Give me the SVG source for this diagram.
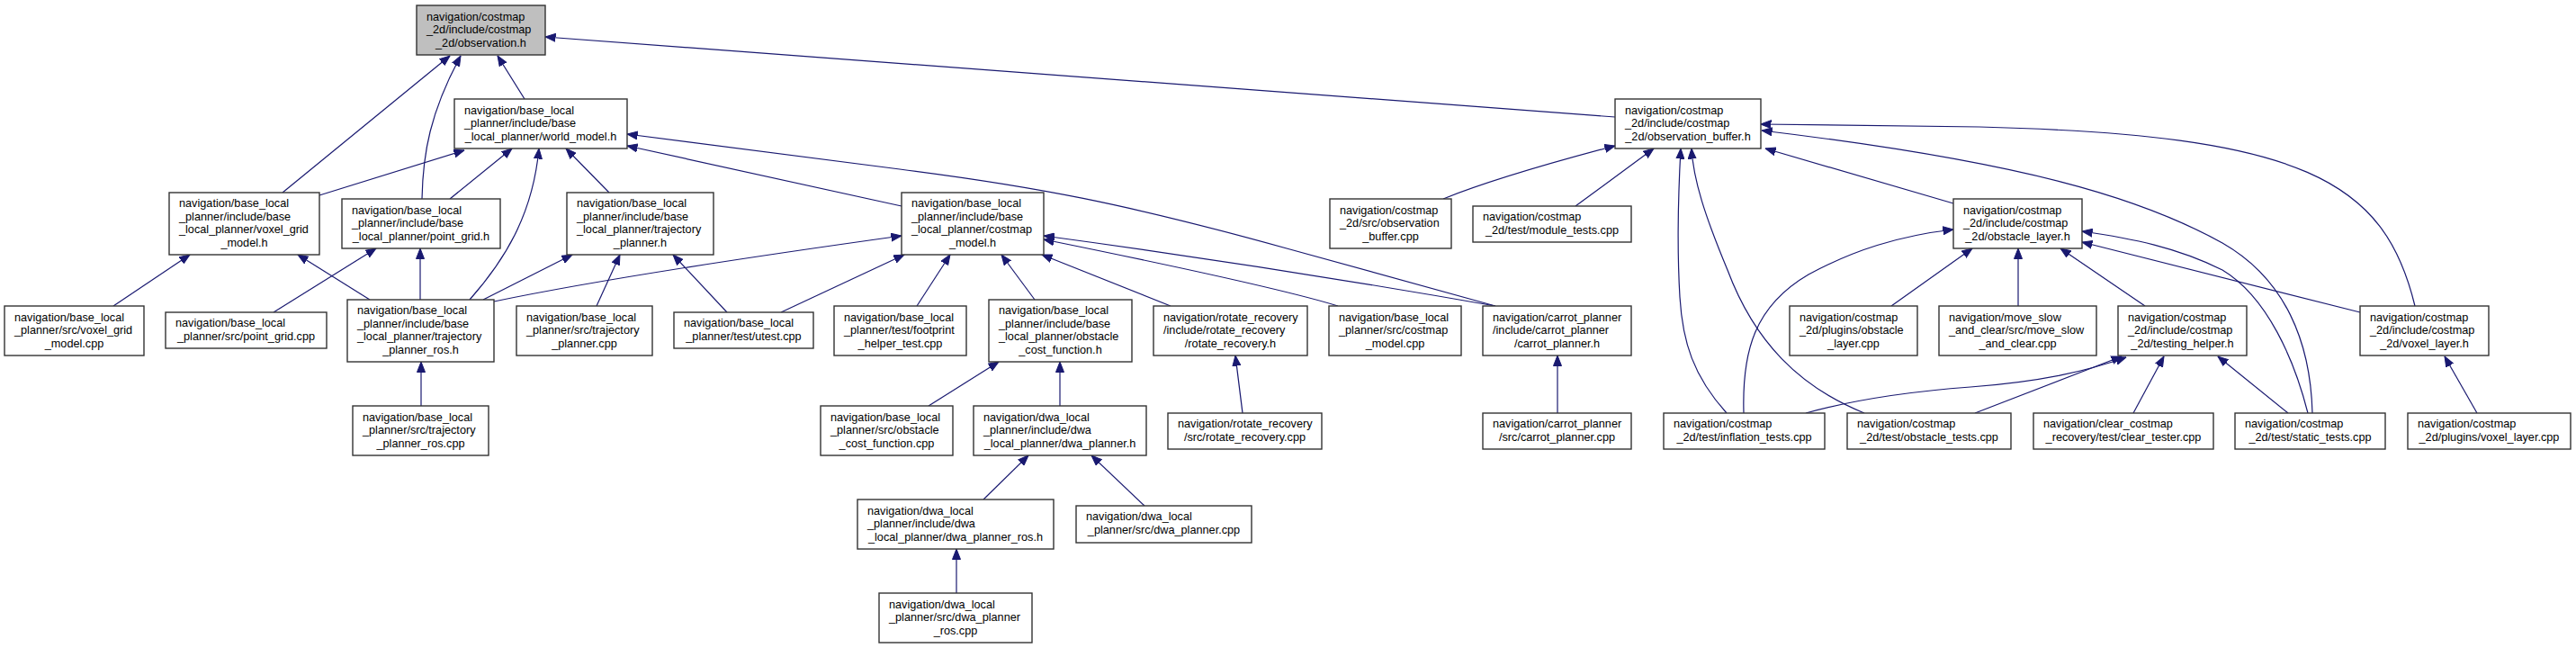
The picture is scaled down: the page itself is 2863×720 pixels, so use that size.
<svg xmlns="http://www.w3.org/2000/svg" width="2863" height="720" viewBox="0 0 2863 720">
<style>
.n rect{fill:#fff;stroke:#333;stroke-width:1.4}
.n.r rect{fill:#bfbfbf}
.n text{font-family:"Liberation Sans",Arial,sans-serif;font-size:12.7px;fill:#000}
.n .m{text-anchor:middle}
#edges path{fill:none;stroke:#191970;stroke-width:1.2;marker-end:url(#a)}
</style>
<defs>
<marker id="a" markerUnits="userSpaceOnUse" viewBox="0 0 12 10" markerWidth="12" markerHeight="10" refX="11.5" refY="5" orient="auto"><path d="M0,0.5 L11.5,5 L0,9.5 z" fill="#191970" stroke="#191970" stroke-width="1"/></marker>
</defs>
<rect width="2863" height="720" fill="#fff"/>
<g id="edges">
<path d="M314,214 L500,62"/>
<path d="M469,221 C470,170 478,125 512,62"/>
<path d="M583,110 L553,62"/>
<path d="M1795,130 L606,41"/>
<path d="M355,217 L516,167"/>
<path d="M500,221 L569,165"/>
<path d="M522,333 C560,290 592,240 599,165"/>
<path d="M677,214 L629,165"/>
<path d="M1002,229 L697,162"/>
<path d="M1662,340 L1430,276 C1250,226 1150,207 1000,188 L697,149"/>
<path d="M126,340 L211,283"/>
<path d="M411,333 L331,283"/>
<path d="M304,347 L418,276"/>
<path d="M467,333 L467,276"/>
<path d="M537,333 L636,283"/>
<path d="M549,335 Q693,305 1002,262"/>
<path d="M663,340 L689,283"/>
<path d="M808,347 L748,283"/>
<path d="M868,347 L1005,283"/>
<path d="M1019,340 L1056,283"/>
<path d="M1150,333 L1113,283"/>
<path d="M1301,340 L1158,283"/>
<path d="M1487,340 Q1416,318 1160,266"/>
<path d="M1662,340 Q1412,296 1160,262"/>
<path d="M1032,451 L1110,402"/>
<path d="M1178,451 L1178,402"/>
<path d="M1381,459 L1373,395"/>
<path d="M1093,555 L1143,506"/>
<path d="M1272,562 L1213,506"/>
<path d="M1063,659 L1063,610"/>
<path d="M468,451 L468,402"/>
<path d="M1731,459 L1731,395"/>
<path d="M1604,221 Q1666,196 1795,162"/>
<path d="M1751,229 L1838,165"/>
<path d="M1919,459 C1882,418 1870,380 1867,330 C1864,280 1865,220 1868,165"/>
<path d="M2072,459 C2000,430 1950,380 1920,300 C1895,240 1882,200 1880,165"/>
<path d="M2171,226 L1962,165"/>
<path d="M2684,340 C2650,200 2560,150 2200,141 L1957,138"/>
<path d="M2570,459 C2568,380 2540,310 2470,270 C2380,220 2250,180 1958,145"/>
<path d="M2102,340 L2192,276"/>
<path d="M2243,340 L2243,276"/>
<path d="M2384,340 L2290,276"/>
<path d="M2623,347 L2314,269"/>
<path d="M2565,459 C2550,400 2520,330 2470,300 C2420,275 2370,265 2314,257"/>
<path d="M1938,459 C1936,390 1950,340 2010,305 C2060,278 2110,262 2171,255"/>
<path d="M2007,459 C2050,447 2110,436 2190,430 C2270,424 2320,412 2363,397"/>
<path d="M2195,459 L2358,396"/>
<path d="M2371,459 L2405,396"/>
<path d="M2543,459 L2465,396"/>
<path d="M2753,459 L2717,396"/>
</g>
<g id="observation_h" class="n r"><rect x="463" y="6" width="143" height="55"/><text x="474" y="22.5">navigation/costmap</text><text x="474" y="37">_2d/include/costmap</text><text class="m" x="534.5" y="51.5">_2d/observation.h</text></g>
<g id="world_model_h" class="n"><rect x="505" y="110" width="192" height="55"/><text x="516" y="126.5">navigation/base_local</text><text x="516" y="141">_planner/include/base</text><text class="m" x="601" y="155.5">_local_planner/world_model.h</text></g>
<g id="observation_buffer_h" class="n"><rect x="1795" y="110" width="162" height="55"/><text x="1806" y="126.5">navigation/costmap</text><text x="1806" y="141">_2d/include/costmap</text><text class="m" x="1876" y="155.5">_2d/observation_buffer.h</text></g>
<g id="voxel_grid_model_h" class="n"><rect x="188" y="214" width="167" height="69"/><text x="199" y="230">navigation/base_local</text><text x="199" y="244.5">_planner/include/base</text><text x="199" y="259">_local_planner/voxel_grid</text><text class="m" x="271.5" y="273.5">_model.h</text></g>
<g id="point_grid_h" class="n"><rect x="380" y="221" width="176" height="55"/><text x="391" y="237.5">navigation/base_local</text><text x="391" y="252">_planner/include/base</text><text class="m" x="468" y="266.5">_local_planner/point_grid.h</text></g>
<g id="trajectory_planner_h" class="n"><rect x="630" y="214" width="163" height="69"/><text x="641" y="230">navigation/base_local</text><text x="641" y="244.5">_planner/include/base</text><text x="641" y="259">_local_planner/trajectory</text><text class="m" x="711.5" y="273.5">_planner.h</text></g>
<g id="costmap_model_h" class="n"><rect x="1002" y="214" width="158" height="69"/><text x="1013" y="230">navigation/base_local</text><text x="1013" y="244.5">_planner/include/base</text><text x="1013" y="259">_local_planner/costmap</text><text class="m" x="1081" y="273.5">_model.h</text></g>
<g id="observation_buffer_cpp" class="n"><rect x="1478" y="221" width="135" height="55"/><text x="1489" y="237.5">navigation/costmap</text><text x="1489" y="252">_2d/src/observation</text><text class="m" x="1545.5" y="266.5">_buffer.cpp</text></g>
<g id="module_tests_cpp" class="n"><rect x="1637" y="229" width="176" height="40"/><text x="1648" y="245">navigation/costmap</text><text class="m" x="1725" y="259.5">_2d/test/module_tests.cpp</text></g>
<g id="obstacle_layer_h" class="n"><rect x="2171" y="221" width="143" height="55"/><text x="2182" y="237.5">navigation/costmap</text><text x="2182" y="252">_2d/include/costmap</text><text class="m" x="2242.5" y="266.5">_2d/obstacle_layer.h</text></g>
<g id="voxel_grid_model_cpp" class="n"><rect x="5" y="340" width="155" height="55"/><text x="16" y="356.5">navigation/base_local</text><text x="16" y="371">_planner/src/voxel_grid</text><text class="m" x="82.5" y="385.5">_model.cpp</text></g>
<g id="point_grid_cpp" class="n"><rect x="184" y="347" width="179" height="40"/><text x="195" y="363">navigation/base_local</text><text class="m" x="273.5" y="377.5">_planner/src/point_grid.cpp</text></g>
<g id="trajectory_planner_ros_h" class="n"><rect x="386" y="333" width="163" height="69"/><text x="397" y="349">navigation/base_local</text><text x="397" y="363.5">_planner/include/base</text><text x="397" y="378">_local_planner/trajectory</text><text class="m" x="467.5" y="392.5">_planner_ros.h</text></g>
<g id="trajectory_planner_cpp" class="n"><rect x="574" y="340" width="151" height="55"/><text x="585" y="356.5">navigation/base_local</text><text x="585" y="371">_planner/src/trajectory</text><text class="m" x="649.5" y="385.5">_planner.cpp</text></g>
<g id="utest_cpp" class="n"><rect x="749" y="347" width="155" height="40"/><text x="760" y="363">navigation/base_local</text><text class="m" x="826.5" y="377.5">_planner/test/utest.cpp</text></g>
<g id="footprint_helper_test_cpp" class="n"><rect x="927" y="340" width="147" height="55"/><text x="938" y="356.5">navigation/base_local</text><text x="938" y="371">_planner/test/footprint</text><text class="m" x="1000.5" y="385.5">_helper_test.cpp</text></g>
<g id="obstacle_cost_function_h" class="n"><rect x="1099" y="333" width="159" height="69"/><text x="1110" y="349">navigation/base_local</text><text x="1110" y="363.5">_planner/include/base</text><text x="1110" y="378">_local_planner/obstacle</text><text class="m" x="1178.5" y="392.5">_cost_function.h</text></g>
<g id="rotate_recovery_h" class="n"><rect x="1282" y="340" width="171" height="55"/><text x="1293" y="356.5">navigation/rotate_recovery</text><text x="1293" y="371">/include/rotate_recovery</text><text class="m" x="1367.5" y="385.5">/rotate_recovery.h</text></g>
<g id="costmap_model_cpp" class="n"><rect x="1477" y="340" width="147" height="55"/><text x="1488" y="356.5">navigation/base_local</text><text x="1488" y="371">_planner/src/costmap</text><text class="m" x="1550.5" y="385.5">_model.cpp</text></g>
<g id="carrot_planner_h" class="n"><rect x="1648" y="340" width="165" height="55"/><text x="1659" y="356.5">navigation/carrot_planner</text><text x="1659" y="371">/include/carrot_planner</text><text class="m" x="1730.5" y="385.5">/carrot_planner.h</text></g>
<g id="obstacle_layer_cpp" class="n"><rect x="1989" y="340" width="142" height="55"/><text x="2000" y="356.5">navigation/costmap</text><text x="2000" y="371">_2d/plugins/obstacle</text><text class="m" x="2060" y="385.5">_layer.cpp</text></g>
<g id="move_slow_and_clear_cpp" class="n"><rect x="2155" y="340" width="175" height="55"/><text x="2166" y="356.5">navigation/move_slow</text><text x="2166" y="371">_and_clear/src/move_slow</text><text class="m" x="2242.5" y="385.5">_and_clear.cpp</text></g>
<g id="testing_helper_h" class="n"><rect x="2354" y="340" width="143" height="55"/><text x="2365" y="356.5">navigation/costmap</text><text x="2365" y="371">_2d/include/costmap</text><text class="m" x="2425.5" y="385.5">_2d/testing_helper.h</text></g>
<g id="voxel_layer_h" class="n"><rect x="2623" y="340" width="143" height="55"/><text x="2634" y="356.5">navigation/costmap</text><text x="2634" y="371">_2d/include/costmap</text><text class="m" x="2694.5" y="385.5">_2d/voxel_layer.h</text></g>
<g id="trajectory_planner_ros_cpp" class="n"><rect x="392" y="451" width="151" height="55"/><text x="403" y="467.5">navigation/base_local</text><text x="403" y="482">_planner/src/trajectory</text><text class="m" x="467.5" y="496.5">_planner_ros.cpp</text></g>
<g id="obstacle_cost_function_cpp" class="n"><rect x="912" y="451" width="147" height="55"/><text x="923" y="467.5">navigation/base_local</text><text x="923" y="482">_planner/src/obstacle</text><text class="m" x="985.5" y="496.5">_cost_function.cpp</text></g>
<g id="dwa_planner_h" class="n"><rect x="1082" y="451" width="192" height="55"/><text x="1093" y="467.5">navigation/dwa_local</text><text x="1093" y="482">_planner/include/dwa</text><text class="m" x="1178" y="496.5">_local_planner/dwa_planner.h</text></g>
<g id="rotate_recovery_cpp" class="n"><rect x="1298" y="459" width="171" height="40"/><text x="1309" y="475">navigation/rotate_recovery</text><text class="m" x="1383.5" y="489.5">/src/rotate_recovery.cpp</text></g>
<g id="carrot_planner_cpp" class="n"><rect x="1648" y="459" width="165" height="40"/><text x="1659" y="475">navigation/carrot_planner</text><text class="m" x="1730.5" y="489.5">/src/carrot_planner.cpp</text></g>
<g id="inflation_tests_cpp" class="n"><rect x="1849" y="459" width="179" height="40"/><text x="1860" y="475">navigation/costmap</text><text class="m" x="1938.5" y="489.5">_2d/test/inflation_tests.cpp</text></g>
<g id="obstacle_tests_cpp" class="n"><rect x="2053" y="459" width="182" height="40"/><text x="2064" y="475">navigation/costmap</text><text class="m" x="2144" y="489.5">_2d/test/obstacle_tests.cpp</text></g>
<g id="clear_tester_cpp" class="n"><rect x="2260" y="459" width="200" height="40"/><text x="2271" y="475">navigation/clear_costmap</text><text class="m" x="2360" y="489.5">_recovery/test/clear_tester.cpp</text></g>
<g id="static_tests_cpp" class="n"><rect x="2484" y="459" width="167" height="40"/><text x="2495" y="475">navigation/costmap</text><text class="m" x="2567.5" y="489.5">_2d/test/static_tests.cpp</text></g>
<g id="voxel_layer_cpp" class="n"><rect x="2676" y="459" width="181" height="40"/><text x="2687" y="475">navigation/costmap</text><text class="m" x="2766.5" y="489.5">_2d/plugins/voxel_layer.cpp</text></g>
<g id="dwa_planner_ros_h" class="n"><rect x="953" y="555" width="218" height="55"/><text x="964" y="571.5">navigation/dwa_local</text><text x="964" y="586">_planner/include/dwa</text><text class="m" x="1062" y="600.5">_local_planner/dwa_planner_ros.h</text></g>
<g id="dwa_planner_cpp" class="n"><rect x="1196" y="562" width="195" height="41"/><text x="1207" y="578">navigation/dwa_local</text><text class="m" x="1293.5" y="592.5">_planner/src/dwa_planner.cpp</text></g>
<g id="dwa_planner_ros_cpp" class="n"><rect x="977" y="659" width="170" height="55"/><text x="988" y="675.5">navigation/dwa_local</text><text x="988" y="690">_planner/src/dwa_planner</text><text class="m" x="1062" y="704.5">_ros.cpp</text></g>
</svg>
